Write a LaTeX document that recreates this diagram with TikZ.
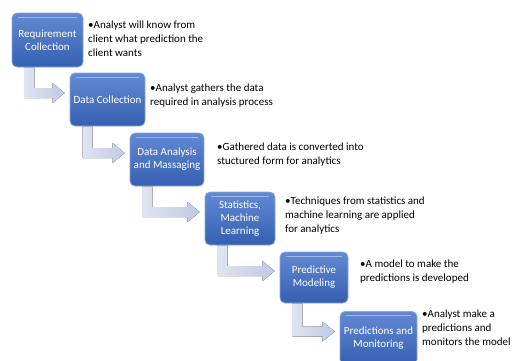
\documentclass[tikz,border=0pt]{standalone}
\usepackage{fontspec}
\setmainfont{Carlito}
\usetikzlibrary{calc}
\definecolor{boxblue}{RGB}{60,108,200}
\definecolor{arrowgray}{RGB}{192,201,228}
\tikzset{stage/.style={draw=boxblue!60!white, line width=0.8pt, rounded corners=5pt,
    top color=boxblue!80!white, bottom color=boxblue!88!black, text=white,
    align=center, inner sep=2pt, font=\fontsize{11}{13}\selectfont,
    path picture={\draw[white!50!boxblue, line width=1pt]
      ([shift={(6pt,-4pt)}]path picture bounding box.north west) --
      ([shift={(-6pt,-4pt)}]path picture bounding box.north east);}},
  note/.style={anchor=north west, align=left, inner sep=0pt, font=\fontsize{11}{14}\selectfont},
  flowarrow/.style={left color=arrowgray!50!white, right color=arrowgray}}

% bent arrow from the foot of one stage to the side of the next
\newcommand{\bentarrow}[2]{%
  \fill[flowarrow] let \p1=(#1.south west), \p2=(#2.west) in
    (\x1+13pt,\y1) -- (\x1+23pt,\y1) -- (\x1+23pt,\y2+11.5pt) -- (\x2-17pt,\y2+11.5pt)
    -- (\x2-17pt,\y2+16.5pt) -- (\x2-5pt,\y2+6.5pt) -- (\x2-17pt,\y2-3.5pt)
    -- (\x2-17pt,\y2+1.5pt) -- (\x1+13pt,\y2+1.5pt) -- cycle;}

\begin{document}
\begin{tikzpicture}[x=1pt, y=-1pt]
  \useasboundingbox (0,0) rectangle (513,360);

  \node[stage, minimum width=71pt, minimum height=54pt] (s1) at (47.5,40) {Requirement\\Collection};
  \node[stage, minimum width=75pt, minimum height=53pt] (s2) at (107.5,99.5) {Data Collection};
  \node[stage, minimum width=74pt, minimum height=53pt] (s3) at (167,159.5) {Data Analysis\\and Massaging};
  \node[stage, minimum width=70pt, minimum height=53pt] (s4) at (240,218.5) {Statistics,\\Machine\\Learning};
  \node[stage, minimum width=68pt, minimum height=51pt] (s5) at (314,277.5) {Predictive\\Modeling};
  \node[stage, minimum width=77pt, minimum height=53pt] (s6) at (378.5,338) {Predictions and\\Monitoring};

  \bentarrow{s1}{s2}
  \bentarrow{s2}{s3}
  \bentarrow{s3}{s4}
  \bentarrow{s4}{s5}
  \bentarrow{s5}{s6}

  \node[note] (t1) at (88,21) {•Analyst will know from\\ client what prediction the\\ client wants};
  \node[note] (t2) at (150,84) {•Analyst gathers the data\\ required in analysis process};
  \node[note] (t3) at (217,143) {•Gathered data is converted into\\ stuctured form for analytics};
  \node[note] (t4) at (285,197) {•Techniques from statistics and\\ machine learning are applied\\ for analytics};
  \node[note] (t5) at (360,260) {•A model to make the\\ predictions is developed};
  \node[note] (t6) at (422,310) {•Analyst make a\\ predictions and\\ monitors the model};
\end{tikzpicture}
\end{document}
